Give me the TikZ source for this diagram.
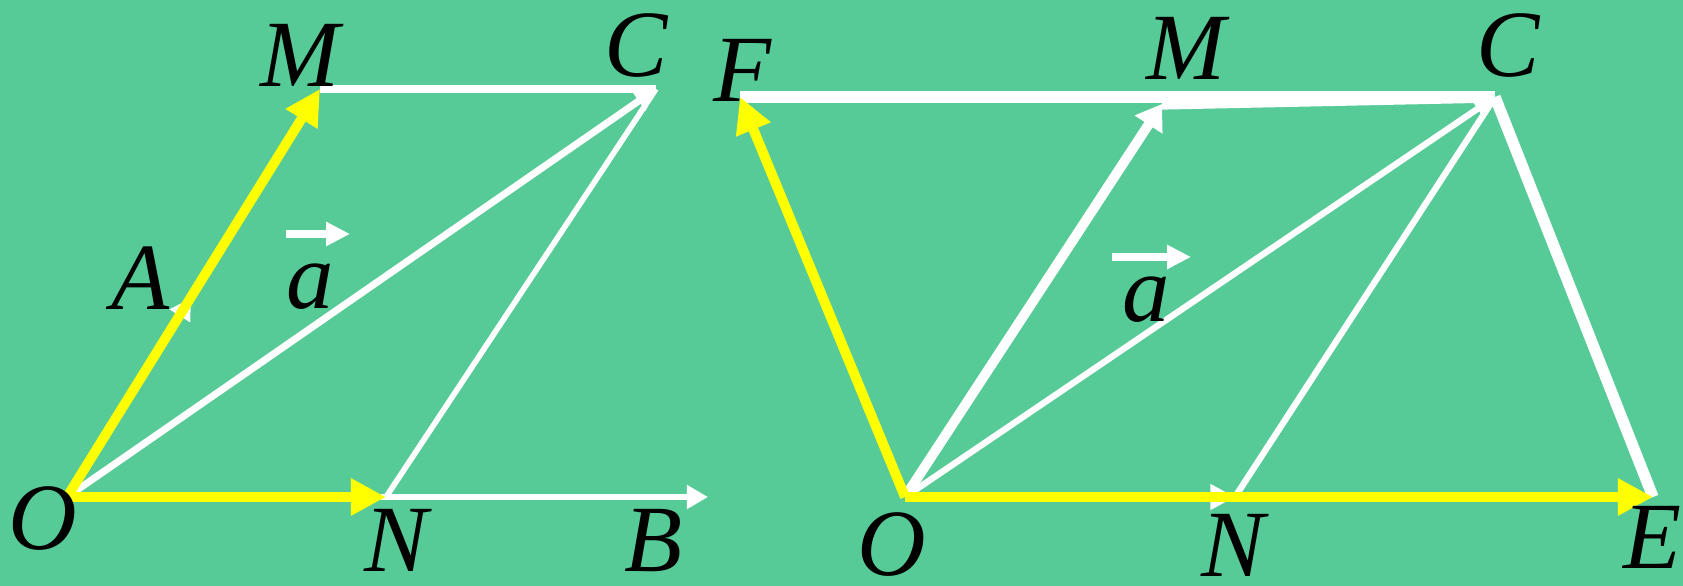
\documentclass[tikz,border=0pt]{standalone}
\usepackage{fontspec}
\setmainfont{Liberation Serif}
\usetikzlibrary{arrows.meta}
\definecolor{boardgreen}{RGB}{86,203,151}
\definecolor{vecyellow}{RGB}{255,255,0}
\tikzset{
  lbl/.style={font=\fontsize{27}{30}\selectfont\itshape, inner sep=0pt},
  wline/.style={white, line width=1.6pt},
  wbold/.style={white, line width=3.2pt},
  whead/.style={-{Triangle[length=6pt,width=6.5pt]}},
  yvec/.style={vecyellow, line width=2.8pt, -{Triangle[length=10pt,width=10pt]}},
  vecbar/.style={white, line width=2.3pt, -{Triangle[length=6.8pt,width=6.5pt]}}
}

\begin{document}
\begin{tikzpicture}[x=0.01cm,y=-0.01cm]
\useasboundingbox (0,0) rectangle (1683,586);
\fill[boardgreen] (0,0) rectangle (1683,586);

\coordinate (O1) at (67,497);
\coordinate (A1) at (191,298);
\coordinate (M1) at (320,89);
\coordinate (C1) at (656,89);
\coordinate (N1) at (386,497);
\coordinate (B1) at (708,497);
\coordinate (va1s) at (286,234);
\coordinate (va1e) at (350,234);

\draw[wline, whead] (O1) -- (A1);
\draw[wline, whead] (O1) -- (B1);
\draw[wline, line width=2pt] (M1) -- (C1);
\draw[wline] (N1) -- (C1);
\draw[wline, line width=2pt, whead] (O1) -- (C1);
\draw[yvec] (O1) -- (M1);
\draw[yvec] (O1) -- (N1);
\draw[vecbar] (va1s) -- (va1e);

\node[lbl] (lM1) at (300,55) {M};
\node[lbl] (lC1) at (636,46) {C};
\node[lbl] (lA1) at (140,278) {A};
\node[lbl] (la1) at (310,287) {a};
\node[lbl] (lO1) at (43,519) {O};
\node[lbl] (lN1) at (396,540) {N};
\node[lbl] (lB1) at (653,541) {B};

\coordinate (O2) at (905,497);
\coordinate (F2) at (740,97);
\coordinate (M2) at (1162,104);
\coordinate (C2) at (1495,97);
\coordinate (N2) at (1235,497);
\coordinate (E2) at (1653,497);
\coordinate (va2s) at (1112,257);
\coordinate (va2e) at (1191,257);

\draw[wline, -{Triangle[length=7pt,width=7pt]}] (O2) -- (N2);
\draw[wbold, line width=2.8pt, -{Triangle[length=7pt,width=9pt]}] (O2) -- (M2);
\draw[wline, line width=1.8pt, whead] (O2) -- (C2);
\draw[wline, line width=1.8pt] (N2) -- (C2);
\draw[wbold] (F2) -- (C2);
\draw[wbold] (M2) -- (C2);
\draw[wbold] (C2) -- (E2);
\draw[yvec] (O2) -- (E2);
\draw[yvec] (O2) -- (F2);
\draw[vecbar] (va2s) -- (va2e);

\node[lbl] (lF2) at (742,70) {F};
\node[lbl] (lM2) at (1186,48) {M};
\node[lbl] (lC2) at (1508,46) {C};
\node[lbl] (la2) at (1146,300) {a};
\node[lbl] (lO2) at (892,545) {O};
\node[lbl] (lN2) at (1233,545) {N};
\node[lbl] (lE2) at (1652,537) {E};
\end{tikzpicture}
\end{document}
